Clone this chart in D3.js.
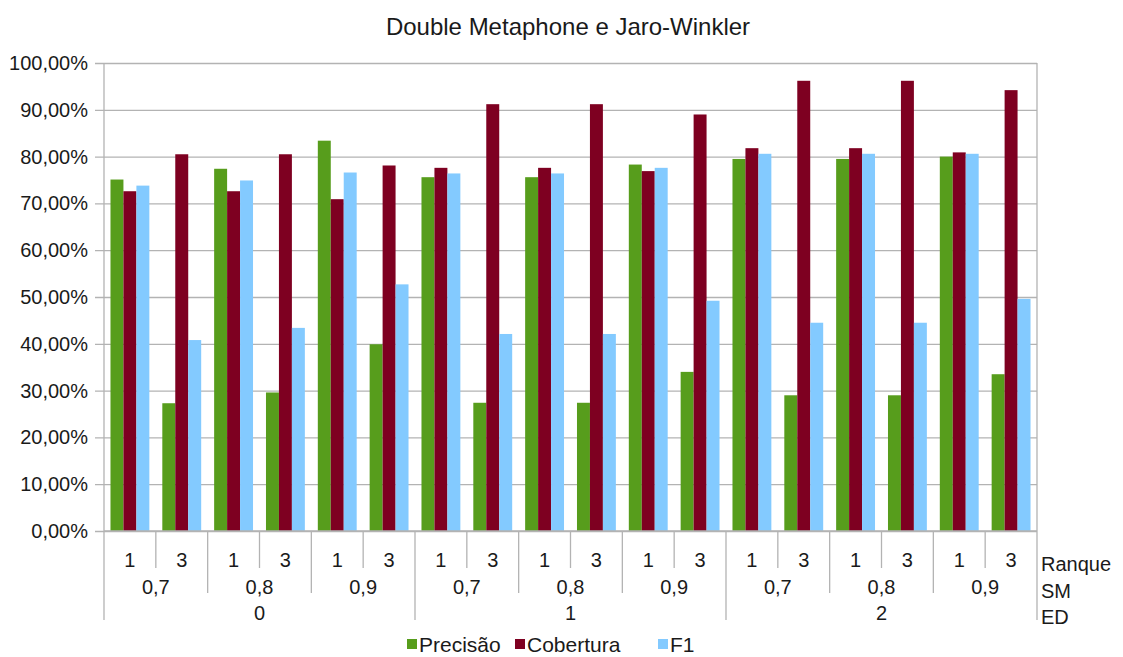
<!DOCTYPE html>
<html>
<head>
<meta charset="utf-8">
<script src="https://d3js.org/d3.v7.min.js"></script>
<style>
  html, body { margin: 0; padding: 0; background: #fff; }
  svg { display: block; }
  text { font-family: "Liberation Sans", Arial, sans-serif; fill: #1a1a1a; }
</style>
</head>
<body>
<svg id="chart" width="1123" height="657"></svg>
<script>
// Hierarchical category levels (ED > SM > Ranque)
const edLevels = ["0", "1", "2"];
const smLevels = ["0,7", "0,8", "0,9"];
const ranqueLevels = ["1", "3"];
const rowTitles = ["Ranque", "SM", "ED"];

// Series values in percent, one per category (ED, SM, Ranque order)
const seriesNames = ["Precisão", "Cobertura", "F1"];
const precisao  = [75.1, 27.3, 77.4, 29.6, 83.4, 39.9, 75.6, 27.4, 75.6, 27.4, 78.3, 34.0, 79.5, 29.0, 79.5, 29.0, 80.0, 33.5];
const cobertura = [72.6, 80.5, 72.6, 80.5, 70.9, 78.1, 77.6, 91.2, 77.6, 91.2, 76.9, 89.0, 81.8, 96.2, 81.8, 96.2, 80.9, 94.2];
const f1        = [73.8, 40.8, 74.9, 43.4, 76.6, 52.7, 76.4, 42.1, 76.4, 42.1, 77.6, 49.2, 80.6, 44.5, 80.6, 44.5, 80.6, 49.6];
const yTicks = [0, 10, 20, 30, 40, 50, 60, 70, 80, 90, 100];
const colors = ["#579d1c", "#7e0021", "#83caff"];

const seriesValues = [precisao, cobertura, f1];

// Build flat category list
const categories = [];
edLevels.forEach(ed => smLevels.forEach(sm => ranqueLevels.forEach(r => {
  categories.push({ key: ed + "|" + sm + "|" + r, ed, sm, r });
})));

const svg = d3.select("#chart");
const plotLeft = 104, plotRight = 1037, plotTop = 63, plotBottom = 531;

const x = d3.scaleBand().domain(categories.map(c => c.key)).range([plotLeft, plotRight]).padding(0);
const x1 = d3.scaleBand().domain(seriesNames).range([0, x.bandwidth()]).paddingInner(0).paddingOuter(0.5);
const y = d3.scaleLinear().domain([0, 100]).range([plotBottom, plotTop]);

const locale = d3.formatLocale({ decimal: ",", thousands: ".", grouping: [3], currency: ["", ""] });
const fmt = v => locale.format(".2f")(v) + "%";

// Title
svg.append("text")
  .attr("x", 568).attr("y", 35)
  .attr("text-anchor", "middle")
  .style("font-size", "24px")
  .text("Double Metaphone e Jaro-Winkler");

// Gridlines + y axis
const yAxis = d3.axisLeft(y).tickValues(yTicks).tickFormat(fmt)
  .tickSize(-(plotRight - plotLeft)).tickSizeOuter(0).tickPadding(16);
const gy = svg.append("g").attr("transform", `translate(${plotLeft},0)`).call(yAxis);
gy.select(".domain").remove();
gy.selectAll(".tick line").attr("stroke", "#b3b3b3").attr("stroke-width", 1.3).attr("x1", -9);
gy.selectAll(".tick text").style("font-size", "20px").attr("fill", "#1a1a1a");

// Frame: left and right edges
svg.append("line").attr("x1", plotLeft).attr("x2", plotLeft).attr("y1", plotTop).attr("y2", 620)
  .attr("stroke", "#b3b3b3").attr("stroke-width", 1.3);
svg.append("line").attr("x1", plotRight).attr("x2", plotRight).attr("y1", plotTop).attr("y2", 620)
  .attr("stroke", "#b3b3b3").attr("stroke-width", 1.3);

// Bars
const groups = svg.append("g").selectAll("g").data(categories).join("g")
  .attr("transform", d => `translate(${x(d.key)},0)`);
groups.selectAll("rect")
  .data((d, i) => seriesNames.map((s, j) => ({ s, v: seriesValues[j][i], c: colors[j] })))
  .join("rect")
  .attr("x", d => x1(d.s))
  .attr("width", x1.bandwidth())
  .attr("y", d => y(d.v))
  .attr("height", d => y(0) - y(d.v))
  .attr("fill", d => d.c);

// Bottom axis line
svg.append("line").attr("x1", plotLeft).attr("x2", plotRight).attr("y1", plotBottom).attr("y2", plotBottom)
  .attr("stroke", "#b3b3b3").attr("stroke-width", 1.3);

// Hierarchical category labels and separators
const sep = svg.append("g").attr("stroke", "#b3b3b3").attr("stroke-width", 1.3);
const labels = svg.append("g").style("font-size", "20px").attr("text-anchor", "middle");
const rowBase = [567, 594, 620];
const sepEnd = [568, 593, 620];

categories.forEach((c, i) => {
  const cx = x(c.key) + x.bandwidth() / 2;
  labels.append("text").attr("x", cx).attr("y", rowBase[0]).text(c.r);
  if (i > 0) {
    const prev = categories[i - 1];
    let level = 0;
    if (prev.ed !== c.ed) level = 2;
    else if (prev.sm !== c.sm) level = 1;
    sep.append("line").attr("x1", x(c.key)).attr("x2", x(c.key))
      .attr("y1", plotBottom).attr("y2", sepEnd[level]);
  }
});

edLevels.forEach(ed => {
  smLevels.forEach(sm => {
    const keys = categories.filter(c => c.ed === ed && c.sm === sm).map(c => c.key);
    const cx = (x(keys[0]) + x(keys[keys.length - 1]) + x.bandwidth()) / 2;
    labels.append("text").attr("x", cx).attr("y", rowBase[1]).text(sm);
  });
  const keys = categories.filter(c => c.ed === ed).map(c => c.key);
  const cx = (x(keys[0]) + x(keys[keys.length - 1]) + x.bandwidth()) / 2;
  labels.append("text").attr("x", cx).attr("y", rowBase[2]).text(ed);
});

// Row titles
rowTitles.forEach((t, i) => {
  svg.append("text").attr("x", 1041).attr("y", rowBase[i] + 4)
    .style("font-size", "20px").text(t);
});

// Legend
const legendX = [407, 515, 658];
const lg = svg.append("g");
seriesNames.forEach((s, j) => {
  lg.append("rect").attr("x", legendX[j]).attr("y", 639).attr("width", 10).attr("height", 10)
    .attr("fill", colors[j]);
  lg.append("text").attr("x", legendX[j] + 12).attr("y", 652)
    .style("font-size", "21px").text(s);
});
</script>
</body>
</html>
